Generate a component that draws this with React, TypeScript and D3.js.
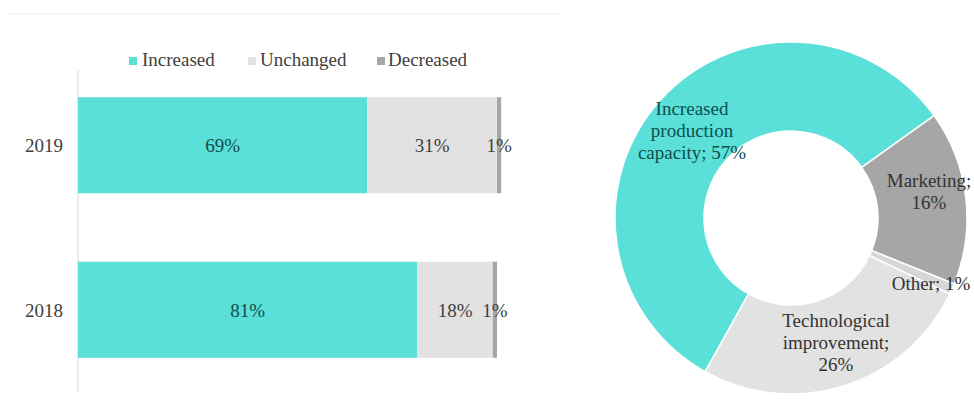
import React from "react";
import * as d3 from "d3";

const years = ["2019", "2018"];
const seriesNames = ["Increased", "Unchanged", "Decreased"];
const increased = [69, 81];
const unchanged = [31, 18];
const decreased = [1, 1];

const donutLabels = [
  ["Increased", "production", "capacity; 57%"],
  ["Marketing;", "16%"],
  ["Other; 1%"],
  ["Technological", "improvement;", "26%"],
];
const donutValues = [57, 16, 1, 26];

const BAR_COLORS = ["#5adfd9", "#e2e2e2", "#a6a6a6"];
const DONUT_COLORS = ["#5adfd9", "#a6a6a6", "#d6d6d6", "#e2e2e2"];
const FONT = "'Liberation Serif', 'Times New Roman', serif";

export default function App() {
  const W = 974;
  const H = 414;
  const x = d3.scaleLinear().domain([0, 100]).range([78, 497]);
  const y = d3
    .scaleBand<string>()
    .domain(years)
    .range([63, 392])
    .paddingInner(0.416)
    .paddingOuter(0.208);

  const series = [increased, unchanged, decreased];
  const stackRows = years.map((yr, i) => {
    let acc = 0;
    return series.map((s, k) => {
      const x0 = acc;
      acc += s[i];
      return { yr, k, x0, x1: acc, v: s[i] };
    });
  });

  const cx = 791;
  const cy = 218;
  const R = 176;
  const r = 87;
  const start = (209.2 * Math.PI) / 180;
  const pie = d3
    .pie<number>()
    .sort(null)
    .startAngle(start)
    .endAngle(start + 2 * Math.PI)
    .value((d) => d);
  const arcs = pie(donutValues);
  const arcGen = d3.arc<d3.PieArcDatum<number>>().innerRadius(r).outerRadius(R);

  const donutLabelPos = [
    { x: 692, y: 115, color: "#0e4f4c" },
    { x: 929, y: 187, color: "#333333" },
    { x: 931, y: 290, color: "#333333" },
    { x: 836, y: 327, color: "#333333" },
  ];

  const legendItems = [
    { sq: 129, tx: 142 },
    { sq: 248, tx: 260 },
    { sq: 377, tx: 388 },
  ];

  return (
    <svg
      width={W}
      height={H}
      style={{ position: "absolute", left: 0, top: 0, background: "#fff" }}
      fontFamily={FONT}
    >
      <line x1={8} x2={560} y1={14} y2={14} stroke="#f2f2f2" strokeWidth={1} />
      {/* legend */}
      {legendItems.map((l, i) => (
        <g key={seriesNames[i]}>
          <rect x={l.sq} y={57} width={8} height={8} fill={BAR_COLORS[i]} />
          <text x={l.tx} y={66} fontSize={19} fill="#404040">
            {seriesNames[i]}
          </text>
        </g>
      ))}
      {/* axis */}
      <line x1={78} x2={78} y1={70} y2={393} stroke="#d9d9d9" strokeWidth={1} />
      {years.map((yr) => (
        <text
          key={yr}
          x={63}
          y={(y(yr) as number) + y.bandwidth() / 2 + 7}
          textAnchor="end"
          fontSize={19}
          fill="#404040"
        >
          {yr}
        </text>
      ))}
      {stackRows.map((row) =>
        row.map((seg) => (
          <rect
            key={seg.yr + seg.k}
            x={x(seg.x0)}
            y={y(seg.yr)}
            width={Math.max(0, x(seg.x1) - x(seg.x0))}
            height={y.bandwidth()}
            fill={BAR_COLORS[seg.k]}
          />
        ))
      )}
      {stackRows.map((row) =>
        row.map((seg) => (
          <text
            key={"t" + seg.yr + seg.k}
            x={(x(seg.x0) + x(seg.x1)) / 2}
            y={(y(seg.yr) as number) + y.bandwidth() / 2 + 7}
            textAnchor="middle"
            fontSize={19}
            fill={seg.k === 0 ? "#0e4f4c" : "#404040"}
          >
            {seg.v + "%"}
          </text>
        ))
      )}
      {/* donut */}
      <g transform={`translate(${cx},${cy})`}>
        {arcs.map((a, i) => (
          <path
            key={i}
            d={arcGen(a) || ""}
            fill={DONUT_COLORS[i]}
            stroke="#ffffff"
            strokeWidth={1.5}
          />
        ))}
      </g>
      {donutLabels.map((lines, i) => (
        <text
          key={"dl" + i}
          x={donutLabelPos[i].x}
          y={donutLabelPos[i].y}
          textAnchor="middle"
          fontSize={19}
          fill={donutLabelPos[i].color}
        >
          {lines.map((ln, j) => (
            <tspan key={j} x={donutLabelPos[i].x} dy={j === 0 ? 0 : 22}>
              {ln}
            </tspan>
          ))}
        </text>
      ))}
    </svg>
  );
}
